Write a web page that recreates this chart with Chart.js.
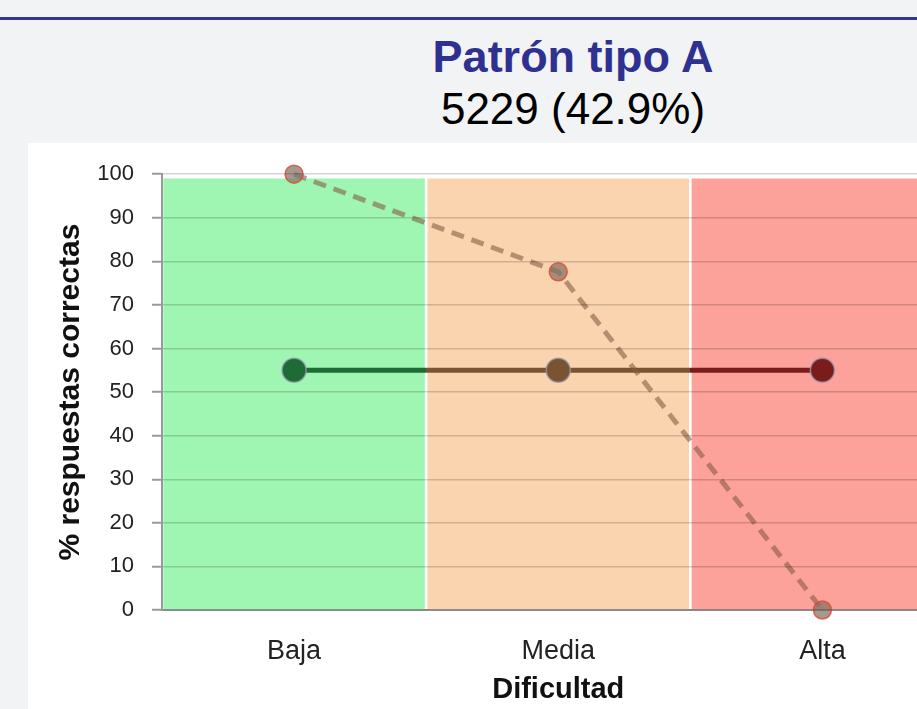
<!DOCTYPE html>
<html>
<head>
<meta charset="utf-8">
<script src="https://cdn.jsdelivr.net/npm/chart.js@4"></script>
<style>
  html, body { margin: 0; padding: 0; width: 917px; height: 709px; overflow: hidden; background: #f2f3f5; font-family: "Liberation Sans", Arial, sans-serif; }
  .topline { position: absolute; left: 0; top: 17px; width: 917px; height: 3px; background: #33358f; }
  .title { position: absolute; left: 273px; width: 600px; text-align: center; line-height: 44px; }
  #t1 { top: 35px; font-size: 45px; font-weight: bold; color: #2f3190; }
  #t2 { top: 87px; font-size: 44px; color: #000; }
  .panel { position: absolute; left: 28px; top: 143px; width: 940px; height: 566px; background: #fff; }
</style>
</head>
<body>
<div class="topline"></div>
<div class="title" id="t1">Patrón tipo A</div>
<div class="title" id="t2">5229 (42.9%)</div>
<div class="panel"><canvas id="chart" width="940" height="566"></canvas></div>
<script>
// Data
const categories = ['Baja', 'Media', 'Alta'];
const bandValues = [99, 99, 99];
const bandColors = ['#9ff6b3', '#fad4ae', '#fda19b'];
const patternValues = [100, 77.6, 0];        // dashed line
const referenceValues = [55, 55, 55];        // solid line
const referenceColors = ['#1e6b35', '#7a5332', '#7a1d1a'];
const yTicks = [0, 10, 20, 30, 40, 50, 60, 70, 80, 90, 100];

const FONT = '"Liberation Sans", Arial, sans-serif';

// hard-stop gradient so the solid line changes colour at each band edge
function bandGradient(chart) {
    const area = chart.chartArea;
    const x = chart.scales.x;
    if (!area || !x) return referenceColors[1];
    const g = chart.ctx.createLinearGradient(area.left, 0, area.right, 0);
    const w = area.right - area.left;
    const b1 = ((x.getPixelForValue(0) + x.getPixelForValue(1)) / 2 - area.left) / w;
    const b2 = ((x.getPixelForValue(1) + x.getPixelForValue(2)) / 2 - area.left) / w;
    g.addColorStop(0, referenceColors[0]);
    g.addColorStop(b1, referenceColors[0]);
    g.addColorStop(b1, referenceColors[1]);
    g.addColorStop(b2, referenceColors[1]);
    g.addColorStop(b2, referenceColors[2]);
    g.addColorStop(1, referenceColors[2]);
    return g;
}

const ctx = document.getElementById('chart').getContext('2d');
new Chart(ctx, {
    type: 'bar',
    data: {
        labels: categories,
        datasets: [{
            type: 'line',
            label: 'Patrón',
            data: patternValues,
            order: 1,
            borderColor: 'rgba(135, 90, 65, 0.58)',
            borderWidth: 5,
            borderDash: [13, 8],
            pointRadius: 9,
            pointBackgroundColor: 'rgba(130, 112, 100, 0.72)',
            pointBorderColor: 'rgba(225, 70, 50, 0.8)',
            pointBorderWidth: 1.5,
            tension: 0,
            clip: false
        }, {
            type: 'line',
            label: 'Referencia',
            data: referenceValues,
            order: 2,
            borderColor: (c) => bandGradient(c.chart),
            borderWidth: 5,
            pointRadius: 12,
            pointBackgroundColor: referenceColors,
            pointBorderColor: 'rgba(150, 150, 175, 0.8)',
            pointBorderWidth: 1.5,
            clip: false
        }, {
            label: 'Dificultad',
            data: bandValues,
            order: 3,
            backgroundColor: bandColors,
            borderWidth: 0,
            barPercentage: 0.99,
            categoryPercentage: 1
        }]
    },
    options: {
        responsive: false,
        animation: false,
        events: [],
        layout: { padding: { left: 0, top: 29, right: 8, bottom: 0 } },
        plugins: {
            legend: { display: false },
            tooltip: { enabled: false }
        },
        scales: {
            x: {
                afterFit: (s) => { s.height = 99; },
                grid: { display: false },
                border: { color: '#999', width: 2 },
                ticks: { color: '#222', padding: 17, font: { family: FONT, size: 27 } },
                title: {
                    display: true,
                    text: 'Dificultad',
                    color: '#111',
                    padding: { top: 0, bottom: 2 },
                    font: { family: FONT, size: 29, weight: 'bold' }
                }
            },
            y: {
                min: 0,
                max: 100,
                afterFit: (s) => { s.width = 134; },
                afterBuildTicks: (s) => { s.ticks = yTicks.map(v => ({ value: v })); },
                grid: {
                    z: 1,
                    color: 'rgba(0, 0, 0, 0.17)',
                    lineWidth: 1.5,
                    tickColor: '#999',
                    tickLength: 10,
                    tickWidth: 2
                },
                border: { z: 2, color: '#999', width: 2 },
                ticks: { color: '#222', padding: 18, font: { family: FONT, size: 22 } },
                title: {
                    display: true,
                    text: '% respuestas correctas',
                    color: '#111',
                    padding: { top: 25, bottom: 0 },
                    font: { family: FONT, size: 30, weight: 'bold' }
                }
            }
        }
    }
});
</script>
</body>
</html>
